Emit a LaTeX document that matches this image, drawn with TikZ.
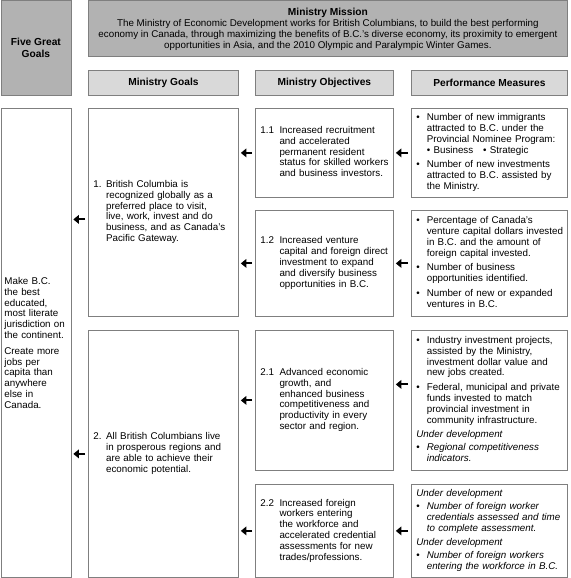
\documentclass[tikz,border=0pt]{standalone}
\usepackage{fontspec}
\setmainfont{Liberation Sans}
\usetikzlibrary{arrows.meta,positioning}

\definecolor{darkfill}{HTML}{B2B2B2}
\definecolor{lightfill}{HTML}{D9D9D9}
\definecolor{edgegray}{HTML}{7F7F7F}

\newcommand{\bul}{\textbullet}

\begin{document}
\begin{tikzpicture}[x=1pt,y=-1pt,
    font=\fontsize{9.8}{10.8}\selectfont,
    box/.style={draw=edgegray, line width=0.8pt, anchor=north west, inner sep=0pt, align=left},
    head/.style={box, fill=lightfill, align=center, font=\fontsize{10.2}{11.5}\selectfont\bfseries},
    arr/.style={-{Triangle[length=5.5pt,width=8.5pt]}, line width=2pt, shorten <=3pt, shorten >=2pt}]
      \useasboundingbox (0,0) rectangle (570,578);

      % top row
      \node[head, fill=darkfill, minimum width=70pt, minimum height=94pt] (fgg) at (0.5,0.5) {Five Great\\Goals};
      \node[box, fill=darkfill, align=center, minimum width=479pt, minimum height=56pt,
            font=\fontsize{9.8}{11}\selectfont] (mission) at (88,0.5)
        {{\fontsize{10.2}{11.5}\selectfont\bfseries Ministry Mission}\\
         The Ministry of Economic Development works for British Columbians, to build the best performing\\
         economy in Canada, through maximizing the benefits of B.C.'s diverse economy, its proximity to emergent\\
         opportunities in Asia, and the 2010 Olympic and Paralympic Winter Games.};

      % column headings
      \node[head, minimum width=150pt, minimum height=25pt] (hgoals) at (88,70) {Ministry Goals};
      \node[head, minimum width=138pt, minimum height=25pt] (hobj) at (255,70) {Ministry Objectives};
      \node[head, minimum width=156pt, minimum height=25pt] (hpm) at (411,70) {Performance Measures};

      % five great goals
      \node[box, minimum width=70pt, minimum height=469pt, text width=63pt] (lc) at (0.5,108)
        {Make B.C.\\the best\\educated,\\most literate\\jurisdiction on\\the continent.\\[5pt]
         Create more\\jobs per\\capita than\\anywhere\\else in\\Canada.};

      % ministry goals
      \node[box, minimum width=150pt, minimum height=208pt, text width=140pt] (g1) at (88,108)
        {\begin{tabular}{@{}l@{\hspace{4.5pt}}l@{}}
         1. & British Columbia is\\ & recognized globally as a\\ & preferred place to visit,\\
            & live, work, invest and do\\ & business, and as Canada's\\ & Pacific Gateway.
         \end{tabular}};
      \node[box, minimum width=150pt, minimum height=247pt, text width=140pt] (g2) at (88,330)
        {\begin{tabular}{@{}l@{\hspace{4.5pt}}l@{}}
         2. & All British Columbians live\\ & in prosperous regions and\\
            & are able to achieve their\\ & economic potential.
         \end{tabular}};

      % ministry objectives
      \node[box, minimum width=138pt, minimum height=89pt, text width=128pt] (o11) at (255,108)
        {\begin{tabular}{@{}l@{\hspace{5.5pt}}l@{}}
         1.1 & Increased recruitment\\ & and accelerated\\ & permanent resident\\
             & status for skilled workers\\ & and business investors.
         \end{tabular}};
      \node[box, minimum width=138pt, minimum height=106pt, text width=128pt] (o12) at (255,210)
        {\begin{tabular}{@{}l@{\hspace{5.5pt}}l@{}}
         1.2 & Increased venture\\ & capital and foreign direct\\ & investment to expand\\
             & and diversify business\\ & opportunities in B.C.
         \end{tabular}};
      \node[box, minimum width=138pt, minimum height=140pt, text width=128pt] (o21) at (255,330)
        {\begin{tabular}{@{}l@{\hspace{5.5pt}}l@{}}
         2.1 & Advanced economic\\ & growth, and\\ & enhanced business\\
             & competitiveness and\\ & productivity in every\\ & sector and region.
         \end{tabular}};
      \node[box, minimum width=138pt, minimum height=93pt, text width=128pt] (o22) at (255,484)
        {\begin{tabular}{@{}l@{\hspace{5.5pt}}l@{}}
         2.2 & Increased foreign\\ & workers entering\\ & the workforce and\\
             & accelerated credential\\ & assessments for new\\ & trades/professions.
         \end{tabular}};

      % performance measures
      \node[box, minimum width=156pt, minimum height=89pt, text width=146pt] (p11) at (411,108)
        {\begin{tabular}{@{}l@{\hspace{7pt}}l@{}}
         \bul & Number of new immigrants\\ & attracted to B.C. under the\\
              & Provincial Nominee Program:\\ & \bul\ Business\quad\bul\ Strategic\\[4pt]
         \bul & Number of new investments\\ & attracted to B.C. assisted by\\ & the Ministry.
         \end{tabular}};
      \node[box, minimum width=156pt, minimum height=106pt, text width=146pt] (p12) at (411,210)
        {\begin{tabular}{@{}l@{\hspace{7pt}}l@{}}
         \bul & Percentage of Canada's\\ & venture capital dollars invested\\
              & in B.C. and the amount of\\ & foreign capital invested.\\[4pt]
         \bul & Number of business\\ & opportunities identified.\\[4pt]
         \bul & Number of new or expanded\\ & ventures in B.C.
         \end{tabular}};
      \node[box, minimum width=156pt, minimum height=140pt, text width=146pt] (p21) at (411,330)
        {\begin{tabular}{@{}l@{\hspace{7pt}}l@{}}
         \bul & Industry investment projects,\\ & assisted by the Ministry,\\
              & investment dollar value and\\ & new jobs created.\\[4pt]
         \bul & Federal, municipal and private\\ & funds invested to match\\
              & provincial investment in\\ & community infrastructure.\\[4pt]
         \multicolumn{2}{@{}l@{}}{\itshape Under development}\\[2pt]
         \bul & \itshape Regional competitiveness\\ & \itshape indicators.
         \end{tabular}};
      \node[box, minimum width=156pt, minimum height=93pt, text width=146pt] (p22) at (411,484)
        {\begin{tabular}{@{}l@{\hspace{7pt}}l@{}}
         \multicolumn{2}{@{}l@{}}{\itshape Under development}\\[2pt]
         \bul & \itshape Number of foreign worker\\ & \itshape credentials assessed and time\\
              & \itshape to complete assessment.\\[4pt]
         \multicolumn{2}{@{}l@{}}{\itshape Under development}\\[2pt]
         \bul & \itshape Number of foreign workers\\ & \itshape entering the workforce in B.C.
         \end{tabular}};

      % arrows
      \coordinate (g1a) at ([yshift=-7pt]g1.west);
      \coordinate (p21a) at ([yshift=16pt]p21.west);
      \draw[arr] (g1a) -- (g1a -| lc.east);
      \draw[arr] (g2.west) -- (g2.west -| lc.east);
      \draw[arr] (o11.west) -- (o11.west -| g1.east);
      \draw[arr] (o12.west) -- (o12.west -| g1.east);
      \draw[arr] (o21.west) -- (o21.west -| g2.east);
      \draw[arr] (o22.west) -- (o22.west -| g2.east);
      \draw[arr] (p11.west) -- (p11.west -| o11.east);
      \draw[arr] (p12.west) -- (p12.west -| o12.east);
      \draw[arr] (p21a) -- (p21a -| o21.east);
      \draw[arr] (p22.west) -- (p22.west -| o22.east);
\end{tikzpicture}
\end{document}
